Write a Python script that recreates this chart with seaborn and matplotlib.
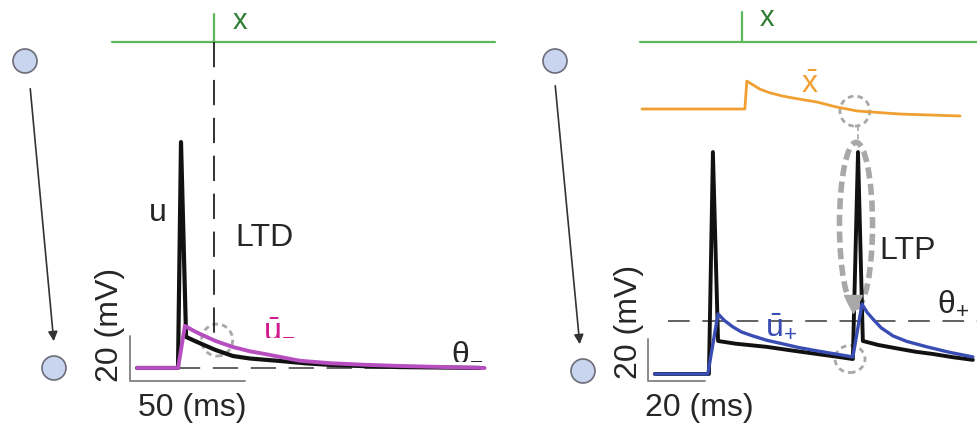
import matplotlib
matplotlib.use("Agg")
import matplotlib.pyplot as plt
from matplotlib.patches import Ellipse, Circle, FancyArrowPatch
import seaborn as sns

# --- Panneau LTD (gauche) : temps en ms, potentiel en mV (relatif au repos)
ltd_u_t = [-19.1, -1.3, 0.0, 2.2, 6, 10, 15, 22.6, 30, 43, 55, 66, 80, 95, 130]
ltd_u_v = [0, 0, 100.4, 13.8, 12.0, 10.2, 8.0, 5.3, 4.2, 3.1, 2.0, 1.3, 0.8, 0.4, 0]
ltd_ubar_t = [-19.1, -1.3, 1.7, 5, 8.3, 15, 22.6, 30, 36.5, 51.7, 65, 80, 95, 115, 132]
ltd_ubar_v = [0, 0, 18.7, 16.8, 15.1, 12.0, 9.3, 7.4, 6.2, 3.2, 2.1, 1.4, 0.9, 0.4, 0]
ltd_x_spike = 14.3      # spike présynaptique (ms)
ltd_theta = 0.0         # theta_-
ltd_t_range = [-30, 136.5]

# --- Panneau LTP (droite)
ltp_u_t = [-20.4, -1.4, 0.0, 1.8, 8, 18.9, 28, 36.5, 43, 49.1,
           50.9, 52.6, 58, 65.6, 71, 77.2, 84, 91.2]
ltp_u_v = [0, 0, 105.7, 15.7, 14.4, 12.9, 11.1, 9.5, 8.3, 7.1,
           105.7, 15.7, 13.8, 11.9, 10.6, 9.5, 8.0, 6.7]
ltp_ubar_t = [-20.4, -1.8, 1.8, 4, 7, 10, 14, 19, 24.6, 30, 36.5, 43, 49.1,
              52.3, 54, 56.1, 59, 63.2, 68, 75.1, 83, 91.2]
ltp_ubar_v = [0, 0, 28.6, 25.5, 22.4, 20.0, 18.1, 16.0, 14.3, 12.6, 11.0, 9.5, 8.1,
              33.3, 29.5, 26.2, 22.0, 18.1, 15.5, 12.9, 10.3, 8.1]
ltp_xbar_t = [-24.9, 11.2, 11.9, 16.5, 20, 24.6, 30, 36.5, 43, 50.5, 65.6, 86.7]
ltp_xbar_v = [0, 0, 1.0, 0.71, 0.58, 0.46, 0.36, 0.25, 0.08, -0.07, -0.18, -0.25]
ltp_x_spike = 10.2
ltp_theta = 25.2        # theta_+
ltp_t_range = [-25.6, 93]

GREEN = "#5cb85a"
GREEN_TXT = "#2e7d32"
MAGENTA = "#b64ec0"
MAGENTA_TXT = "#d2198f"
BLUE = "#3a4db4"
ORANGE = "#f0a032"
GRAY = "#a8a8a8"
DASH = "#555555"

sns.set_style("white")
plt.rcParams["font.family"] = ["Liberation Sans", "DejaVu Sans"]
plt.rcParams["mathtext.fontset"] = "custom"
plt.rcParams["mathtext.rm"] = "Liberation Sans"
plt.rcParams["mathtext.it"] = "Liberation Sans:italic"
FS = 23

W, H = 978, 427
fig = plt.figure(figsize=(W / 100, H / 100), dpi=100)

# axes de chaque panneau, limites choisies pour caler l'échelle
ax_l = fig.add_axes([0, 0, 500 / W, 1])
ax_l.set_xlim(-78.7, 138.7)
ax_l.set_ylim(-25.8, 164.0)
ax_r = fig.add_axes([500 / W, 0, 478 / W, 1])
ax_r.set_xlim(-74.7, 93.0)
ax_r.set_ylim(-24.8, 178.6)
for ax in (ax_l, ax_r):
    ax.axis("off")


def trace(ax, t, v, color, lw, offset=0.0, scale=1.0):
    sns.lineplot(x=t, y=[offset + scale * y for y in v], ax=ax, color=color,
                 linewidth=lw, sort=False, estimator=None)


def spike_train(ax, t_range, spike, level, height):
    ax.plot(t_range, [level, level], color=GREEN, lw=1.6)
    ax.plot([spike, spike], [level, level + height], color=GREEN, lw=1.6)


def scale_bar(ax, x0, y0, dt, dv):
    ax.plot([x0, x0, x0 + dt], [y0 + dv, y0, y0], color="#808080", lw=1.3)


# ---------------- LTD ----------------
spike_train(ax_l, ltd_t_range, ltd_x_spike, 144.9, 12.4)
ax_l.plot([ltd_x_spike, ltd_x_spike], [144.9, 12.0], color="#222222", lw=1.3,
          dashes=(14, 7))
ax_l.plot([-19.1, 132], [ltd_theta, ltd_theta], color=DASH, lw=1.3, dashes=(14, 7))
trace(ax_l, ltd_u_t, ltd_u_v, "#111111", 3.0)
trace(ax_l, ltd_ubar_t, ltd_ubar_v, MAGENTA, 2.8)
ax_l.add_patch(Ellipse((15.7, 12.4), 13.5, 14.2, fill=False, ec=GRAY, lw=2,
                       ls=(0, (2, 1.5))))
scale_bar(ax_l, -22.2, -5.8, 50, 20)

ax_l.text(25.7, 154.7, "x", color=GREEN_TXT, fontsize=21, ha="center", va="center")
ax_l.text(-10, 69.3, "u", fontsize=FS, ha="center", va="center")
ax_l.text(36.1, 58.2, "LTD", fontsize=FS, ha="center", va="center")
ax_l.text(42.6, 18.7, r"$\bar{\mathrm{u}}_{-}$", color=MAGENTA_TXT,
          fontsize=FS, ha="center", va="center")
ax_l.text(124.3, 8.0, r"$\mathrm{θ}_{-}$", fontsize=FS, ha="center", va="center")
ax_l.text(-30.9, 19.6, "20 (mV)", fontsize=FS, rotation=90, ha="center", va="center")
ax_l.text(4.8, -17.3, "50 (ms)", fontsize=FS, ha="center", va="center")

# ---------------- LTP ----------------
spike_train(ax_r, ltp_t_range, ltp_x_spike, 158.1, 14.3)
trace(ax_r, ltp_xbar_t, ltp_xbar_v, ORANGE, 2.0, offset=126.2, scale=13.3)
ax_r.plot([-15.8, 93], [ltp_theta, ltp_theta], color=DASH, lw=1.3, dashes=(12, 7))
trace(ax_r, ltp_u_t, ltp_u_v, "#111111", 2.8)
trace(ax_r, ltp_ubar_t, ltp_ubar_v, BLUE, 2.4)

ax_r.add_patch(Ellipse((49.8, 125.2), 10.5, 14.3, fill=False, ec=GRAY, lw=2,
                       ls=(0, (2, 1.5))))
ax_r.plot([50.9, 50.9], [118.1, 109.5], color=GRAY, lw=1.2, dashes=(3, 2))
ax_r.add_patch(Ellipse((50.2, 71.0), 11.6, 78.6, fill=False, ec=GRAY, lw=4,
                       ls=(0, (2, 1))))
ax_r.plot([49.1], [33.5], marker="v", markersize=13, color=GRAY, mec=GRAY)
ax_r.add_patch(Ellipse((48.1, 7.1), 10.5, 12.9, fill=False, ec=GRAY, lw=2,
                       ls=(0, (2, 1.5))))
scale_bar(ax_r, -22.8, -3.3, 20, 20)

ax_r.text(18.9, 170, "x", color=GREEN_TXT, fontsize=21, ha="center", va="center")
ax_r.text(34.0, 138.1, r"$\bar{\mathrm{x}}$", color=ORANGE, fontsize=FS,
          ha="center", va="center")
ax_r.text(68.4, 59.0, "LTP", fontsize=FS, ha="center", va="center")
ax_r.text(23.9, 22.9, r"$\bar{\mathrm{u}}_{+}$", color=BLUE, fontsize=FS,
          ha="center", va="center")
ax_r.text(84.2, 33.8, r"$\mathrm{θ}_{+}$", fontsize=FS, ha="center", va="center")
ax_r.text(-29.5, 25.2, "20 (mV)", fontsize=FS, rotation=90, ha="center", va="center")
ax_r.text(-4.9, -15.7, "20 (ms)", fontsize=FS, ha="center", va="center")

# neurones schématiques (pixels de la figure)
ov = fig.add_axes([0, 0, 1, 1], facecolor="none")
ov.set_xlim(0, W)
ov.set_ylim(H, 0)
ov.axis("off")
for cx, cy in [(25, 62), (54, 369), (555, 62), (583, 372)]:
    ov.add_patch(Circle((cx, cy), 12, fc="#c9d5ee", ec="#6c6c78", lw=1.2))
for (x0, y0), (x1, y1) in [((30, 87), (54, 345)), ((555, 84), (580, 348))]:
    ov.add_patch(FancyArrowPatch((x0, y0), (x1, y1), arrowstyle="-|>",
                                 mutation_scale=14, color="#333333", lw=1.2))

fig.savefig("out.png", dpi=100)
